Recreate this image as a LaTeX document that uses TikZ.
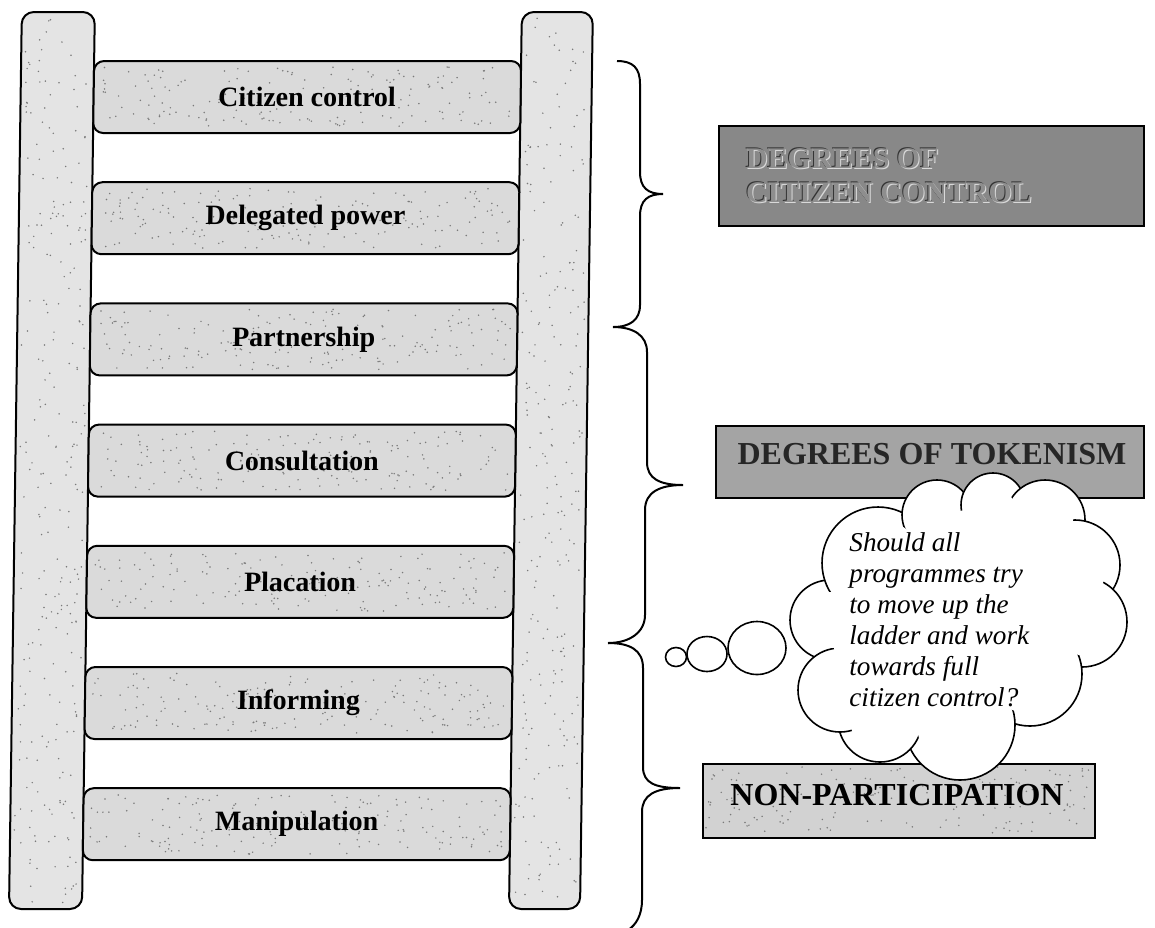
\documentclass[tikz,border=0pt]{standalone}
\usepackage{fontspec}
\setmainfont{Liberation Serif}
\usetikzlibrary{shapes.geometric}

\definecolor{railfill}{HTML}{E4E4E4}
\definecolor{rungfill}{HTML}{DADADA}
\definecolor{darkbox}{HTML}{888888}
\definecolor{midbox}{HTML}{A4A4A4}
\definecolor{lightbox}{HTML}{D2D2D2}
\definecolor{speck}{HTML}{7A7A7A}
\definecolor{engrave}{HTML}{8E8E8E}

% scatter small dots over a rectangle for a grainy fill
\newcommand\specks[5]{%
  \foreach \k in {1,...,#5}{%
    \pgfmathsetmacro\sx{(#1)+rnd*((#3)-(#1))}%
    \pgfmathsetmacro\sy{(#2)+rnd*((#4)-(#2))}%
    \fill[speck] (\sx,\sy) circle[radius=0.42pt];%
  }}

\begin{document}
\begin{tikzpicture}[x=0.5pt,y=-0.5pt,
  rail/.style={draw=black, line width=1pt, fill=railfill, rounded corners=6pt},
  rung/.style={draw=black, line width=1pt, fill=rungfill, rounded corners=5pt,
    minimum width=213.5pt, minimum height=36pt, inner sep=0pt},
  rungtext/.style={font=\fontsize{14}{16}\selectfont\bfseries},
  bracket/.style={draw=black, line width=1pt},
  label box/.style={draw=black, line width=0.8pt, anchor=north west, inner sep=0pt},
  puff/.style={draw=black, line width=0.8pt, fill=white},
  bubble/.style={draw=black, line width=0.8pt, ellipse, inner sep=0pt},
]
\pgfmathsetseed{4711}
\useasboundingbox (0,0) rectangle (1155,927);
\fill[white] (0,0) rectangle (1155,927);

% ---- the ladder (leaning very slightly) ----
\begin{scope}[xslant=0.0143, transform shape]
  \path[rail] (22,12) rectangle (95,909);
  \path[rail] (522,12) rectangle (593,909);
  \specks{26}{18}{91}{903}{260}
  \specks{526}{18}{589}{903}{240}
  \foreach \y/\name/\txt in {
      97/r1/Citizen control,
      218.2/r2/Delegated power,
      339.4/r3/Partnership,
      460.6/r4/Consultation,
      581.8/r5/Placation,
      703/r6/Informing,
      824.2/r7/Manipulation}{
    \node[rung] (\name) at (308.5,\y) {};
    \specks{102}{\y-30}{515}{\y+30}{170}
    \node[rungtext] (\name t) at (\name) {\txt};
  }
\end{scope}

% ---- braces grouping the rungs ----
\draw[bracket] (617,61) .. controls (633,61) and (640,68) .. (640,84)
  -- (640,172) .. controls (640,188) and (648,194) .. (663,194)
  .. controls (648,194) and (640,200) .. (640,216)
  -- (640,305) .. controls (640,320) and (630,327) .. (613,327);
\draw[bracket] (613,327) .. controls (633,327) and (647,335) .. (647,352)
  -- (647,462) .. controls (647,479) and (660,485) .. (683,485)
  .. controls (660,485) and (645,492) .. (645,510)
  -- (645,615) .. controls (645,632) and (630,643) .. (608,643);
\draw[bracket] (608,643) .. controls (630,643) and (643,650) .. (643,668)
  -- (643,767) .. controls (643,783) and (655,788) .. (680,788)
  .. controls (655,788) and (642,795) .. (642,812)
  -- (642,900) .. controls (642,915) and (636,925) .. (628,930);

% ---- category boxes ----
\node[label box, fill=darkbox, minimum width=212.5pt, minimum height=50pt] (ctrl) at (718,125) {};
\node[anchor=west, align=left, text=black!80, font=\fontsize{15}{17}\selectfont\bfseries] (ctrlsh) at (738,175) {DEGREES OF\\CITIZEN CONTROL};
\node[anchor=west, align=left, text=white!85!black, font=\fontsize{15}{17}\selectfont\bfseries] (ctrlhl) at (740,177) {DEGREES OF\\CITIZEN CONTROL};
\node[anchor=west, align=left, text=engrave, font=\fontsize{15}{17}\selectfont\bfseries] (ctrltxt) at (739,176) {DEGREES OF\\CITIZEN CONTROL};

\node[label box, fill=midbox, minimum width=214pt, minimum height=36pt] (token) at (715,425) {};
\node[text=black!85, font=\fontsize{16}{18}\selectfont\bfseries] (tokentxt) at (932,454) {DEGREES OF TOKENISM};

\node[label box, fill=lightbox, minimum width=196pt, minimum height=37pt] (nonp) at (702,763) {};
\specks{706}{767}{1090}{833}{160}
\node[font=\fontsize{16}{18}\selectfont\bfseries] (nonptxt) at (897,795) {NON-PARTICIPATION};

% ---- thought cloud: overlapping puffs, inner seams trimmed to short stubs ----
\def\puffs{830/620/40, 878/563/56, 937/515/35, 993/505/32, 1045/520/40,
    1075/565/45, 1082/622/45, 1030/674/52, 960/725/55, 880/720/42, 840/690/42}
\foreach \cx/\cy/\r in \puffs{
  \path[puff] (\cx,\cy) circle[radius=\r*0.5pt];
}
\foreach \cx/\cy/\r in \puffs{
  \fill[white] (\cx,\cy) circle[radius=(\r-12)*0.5pt];
}
\fill[white] (830,620) -- (878,563) -- (937,515) -- (993,505) -- (1045,520)
  -- (1075,565) -- (1082,622) -- (1030,674) -- (960,725) -- (880,720)
  -- (840,690) -- cycle;
\node[anchor=west, align=left, inner sep=0pt,
  font=\fontsize{13.6}{15.5}\selectfont\itshape] (question) at (849,620)
  {Should all\\programmes try\\to move up the\\ladder and work\\towards full\\citizen control?};

\node[bubble, minimum width=10.5pt, minimum height=9.5pt] (b1) at (676,657) {};
\node[bubble, minimum width=20pt, minimum height=17.5pt] (b2) at (707,654) {};
\node[bubble, minimum width=29pt, minimum height=26.5pt] (b3) at (757,648) {};
\end{tikzpicture}
\end{document}
